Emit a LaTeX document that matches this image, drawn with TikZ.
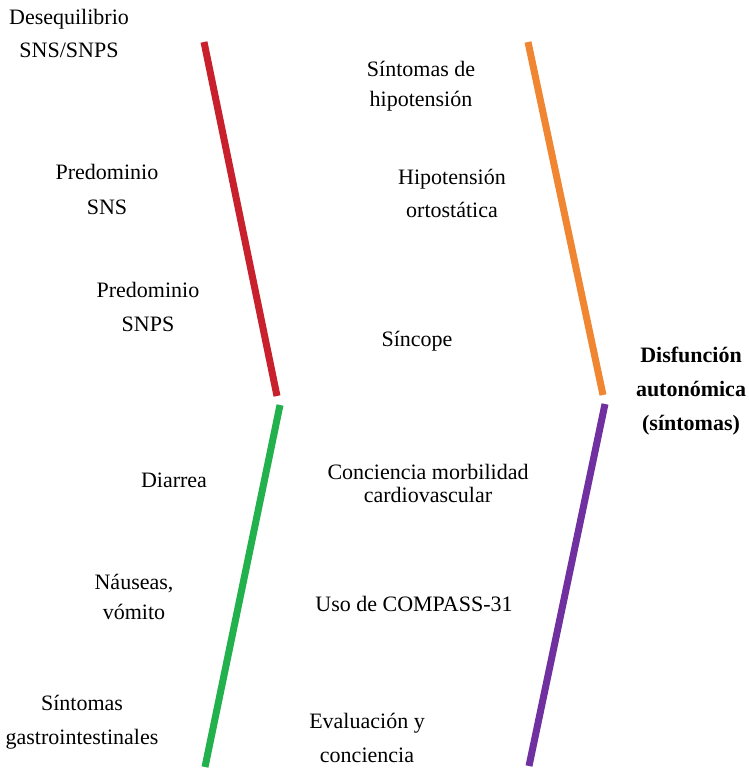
\documentclass[tikz,border=0pt]{standalone}
\usepackage{fontspec}
\setmainfont{Liberation Serif}
\usepackage{xcolor}
\usetikzlibrary{positioning}

\definecolor{spinered}{RGB}{200,32,44}
\definecolor{spinegreen}{RGB}{34,177,76}
\definecolor{spineorange}{RGB}{240,134,50}
\definecolor{spinepurple}{RGB}{112,48,160}

\begin{document}
\begin{tikzpicture}[
  x=1pt, y=-1pt,
  lbl/.style={align=center, inner sep=0pt, font=\fontsize{22}{33}\selectfont},
  head/.style={lbl, font=\fontsize{22}{34}\selectfont\bfseries},
  spine/.style={line width=7pt}
]
\useasboundingbox (0,0) rectangle (749,771);

% ends of the four spines
\coordinate (redtop) at (204,42);
\coordinate (redbot) at (277,396);
\coordinate (greentop) at (280,405);
\coordinate (greenbot) at (205,767);
\coordinate (orangetop) at (528,42);
\coordinate (orangebot) at (603,395);
\coordinate (purpletop) at (605,404);
\coordinate (purplebot) at (529,766);

\draw[spine, spinered] (redtop) -- (redbot);
\draw[spine, spinegreen] (greentop) -- (greenbot);
\draw[spine, spineorange] (orangetop) -- (orangebot);
\draw[spine, spinepurple] (purpletop) -- (purplebot);

% left column
\node[lbl] (deseq) at (69,33) {Desequilibrio\\SNS/SNPS};
\node[lbl] (predsns) at (107,189) {Predominio\\[2pt]SNS};
\node[lbl] (predsnps) at (148,307) {Predominio\\[1pt]SNPS};
\node[lbl] (diarrea) at (174,480) {Diarrea};
\node[lbl] (nauseas) at (134,597) {Náuseas,\\[-3pt]vómito};
\node[lbl] (gastro) at (82,722) {Síntomas\\[1pt]gastrointestinales};

% middle column
\node[lbl] (hipo) at (421,86) {Síntomas de\\[-3pt]hipotensión};
\node[lbl] (orto) at (452,193) {Hipotensión\\ortostática};
\node[lbl] (sincope) at (417,341) {Síncope};
\node[lbl] (concmorb) at (428,483) {Conciencia morbilidad\\[-10pt]cardiovascular};
\node[lbl] (compass) at (414,604) {Uso de COMPASS-31};
\node[lbl] (evalconc) at (367,738) {Evaluación y\\[1pt]conciencia};

% effect
\node[head] (disf) at (691,391) {Disfunción\\autonómica\\(síntomas)};
\end{tikzpicture}
\end{document}
